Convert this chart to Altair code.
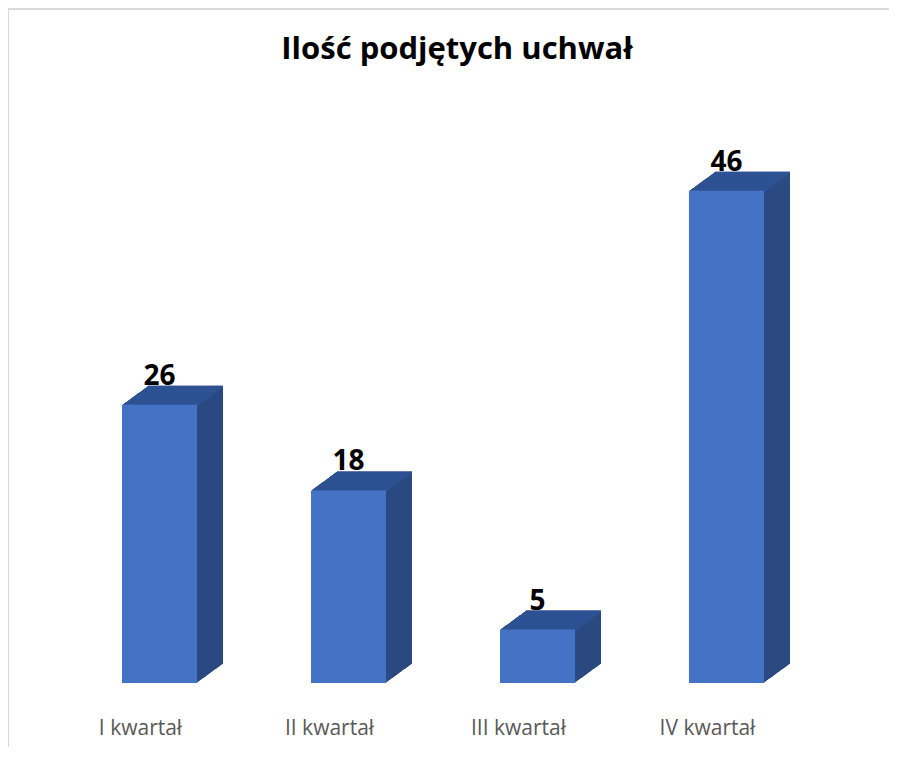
import altair as alt
import pandas as pd

categories = ["I kwartał", "II kwartał", "III kwartał", "IV kwartał"]
values = [26, 18, 5, 46]
title_text = "Ilość podjętych uchwał"

df = pd.DataFrame({"kwartal": categories, "ilosc": values})

FRONT = "#4472C4"
TOP = "#2F5597"
SIDE = "#2B4A82"
DEPTH_X = 26
DEPTH_Y = 19
STEPS = 26

x_enc = alt.X(
    "kwartal:N",
    sort=categories,
    scale=alt.Scale(paddingInner=0.603, paddingOuter=0.3016),
    axis=alt.Axis(
        title=None, domain=False, ticks=False, tickSize=0, grid=False,
        labelAngle=0, labelFont="Open Sans", labelFontSize=21,
        labelColor="#595959", labelPadding=51, labelOffset=-19,
        labelBaseline="alphabetic",
    ),
)
y_enc = alt.Y("ilosc:Q", scale=alt.Scale(domain=[0, 50], nice=False, zero=True), axis=None)

base = alt.Chart(df).encode(x=x_enc)

layers = []
for i in range(STEPS, 0, -1):
    dx = i * DEPTH_X / STEPS
    dy = -i * DEPTH_Y / STEPS
    side = base.mark_bar(color=SIDE, xOffset=dx, x2Offset=dx, yOffset=dy, y2Offset=dy).encode(
        y=y_enc, y2=alt.datum(0)
    )
    top = base.mark_bar(color=TOP, xOffset=dx, x2Offset=dx, yOffset=dy, y2Offset=dy + 1.6).encode(
        y=y_enc, y2=alt.Y2("ilosc:Q")
    )
    layers += [side, top]

front = base.mark_bar(color=FRONT).encode(y=y_enc, y2=alt.datum(0))
labels = base.mark_text(
    font="Open Sans", fontSize=28, fontWeight="bold", color="black",
    baseline="alphabetic", dy=-20,
).encode(y=y_enc, text="ilosc:Q")

frame_df = pd.DataFrame({"k": [0]})
frame_top = alt.Chart(frame_df).mark_rule(color="#D9D9D9", strokeWidth=2).encode(
    x=alt.value(-57), x2=alt.value(832), y=alt.value(-139)
)
frame_left = alt.Chart(frame_df).mark_rule(color="#D9D9D9", strokeWidth=2).encode(
    x=alt.value(-57), y=alt.value(-139), y2=alt.value(612)
)

chart = alt.layer(*layers, front, labels, frame_top, frame_left).properties(
    width=756,
    height=535,
    autosize=alt.AutoSizeParams(type="none"),
    padding={"left": 57, "top": 140, "right": 68, "bottom": 64},
    title=alt.TitleParams(
        title_text, font="Open Sans", fontSize=31, fontWeight="bold",
        color="black", anchor="middle", baseline="alphabetic", offset=-82, dx=14,
    ),
).configure_view(stroke=None)

chart.save("out.html", embed_options={"renderer": "svg", "actions": False})
